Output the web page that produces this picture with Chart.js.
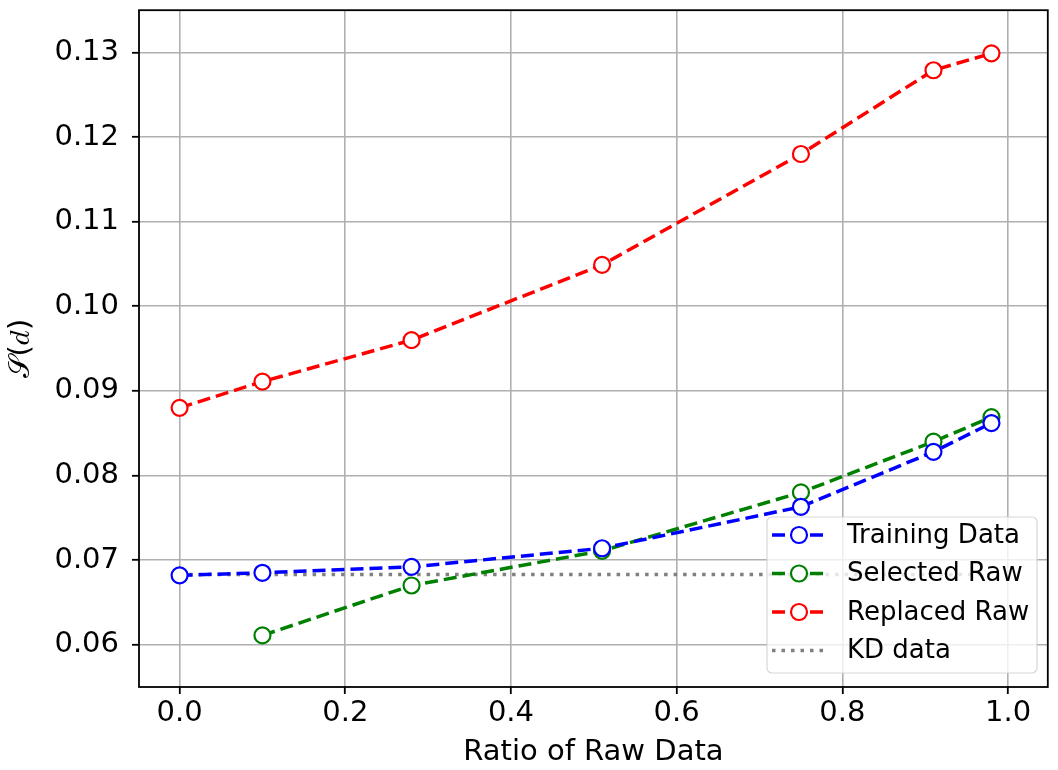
<!DOCTYPE html>
<html>
<head>
<meta charset="utf-8">
<script src="https://cdn.jsdelivr.net/npm/chart.js@4.4.0/dist/chart.umd.min.js"></script>
<style>
  html, body { margin: 0; padding: 0; background: #fff; }
  #wrap { width: 1058px; height: 770px; }
</style>
</head>
<body>
<div id="wrap"><canvas id="ratio-chart" width="1058" height="770"></canvas></div>
<script>
// 値は図から読み取ったもの
const ratios = [0.0, 0.1, 0.28, 0.51, 0.75, 0.91, 0.98];
const trainingData = [0.0682, 0.0685, 0.0692, 0.0714, 0.0763, 0.0828, 0.0862];
const selectedRatios = [0.1, 0.28, 0.51, 0.75, 0.91, 0.98];
const selectedRaw = [0.0611, 0.0670, 0.0711, 0.0780, 0.0840, 0.0869];
const replacedRaw = [0.0880, 0.0911, 0.0960, 0.1049, 0.1180, 0.1279, 0.1299];
const kdRatios = [0.0, 0.98];
const kdData = [0.0683, 0.0683];

const xTicks = [0.0, 0.2, 0.4, 0.6, 0.8, 1.0];
const yTicks = [0.06, 0.07, 0.08, 0.09, 0.10, 0.11, 0.12, 0.13];

const FONT = "'DejaVu Sans', sans-serif";

function toPoints(xs, ys) {
  return xs.map((x, i) => ({ x: x, y: ys[i] }));
}

function lineSet(label, xs, ys, color) {
  return {
    label: label,
    data: toPoints(xs, ys),
    borderColor: color,
    borderWidth: 3.5,
    borderDash: [13, 6],
    pointRadius: 8,
    pointHoverRadius: 8,
    pointBorderWidth: 2.2,
    pointBorderColor: color,
    pointBackgroundColor: '#ffffff',
    tension: 0,
    fill: false
  };
}

// 枠線
const framePlugin = {
  id: 'frame',
  afterDatasetsDraw(chart) {
    const a = chart.chartArea;
    const ctx = chart.ctx;
    ctx.save();
    ctx.strokeStyle = '#000';
    ctx.lineWidth = 1.8;
    ctx.strokeRect(a.left, a.top, a.right - a.left, a.bottom - a.top);
    ctx.restore();
  }
};

// 凡例 (matplotlib風)
const legendPlugin = {
  id: 'mplLegend',
  afterDraw(chart) {
    const ctx = chart.ctx;
    const box = { x: 767, y: 517, w: 270, h: 156 };
    ctx.save();
    ctx.beginPath();
    ctx.roundRect(box.x, box.y, box.w, box.h, 5);
    ctx.fillStyle = 'rgba(255,255,255,0.8)';
    ctx.fill();
    ctx.strokeStyle = 'rgba(204,204,204,0.8)';
    ctx.lineWidth = 1.2;
    ctx.stroke();

    const rowY = [535, 573.5, 612, 650.5];
    chart.data.datasets.forEach((ds, i) => {
      const y = rowY[i];
      ctx.beginPath();
      ctx.setLineDash(ds.borderDash);
      ctx.strokeStyle = ds.borderColor;
      ctx.lineWidth = ds.borderWidth;
      ctx.moveTo(772, y);
      ctx.lineTo(826, y);
      ctx.stroke();
      ctx.setLineDash([]);
      if (ds.pointRadius > 0) {
        ctx.beginPath();
        ctx.arc(799, y, ds.pointRadius, 0, Math.PI * 2);
        ctx.fillStyle = '#fff';
        ctx.fill();
        ctx.lineWidth = ds.pointBorderWidth;
        ctx.strokeStyle = ds.pointBorderColor;
        ctx.stroke();
      }
      ctx.fillStyle = '#000';
      ctx.font = '26px ' + FONT;
      ctx.textBaseline = 'middle';
      ctx.textAlign = 'left';
      ctx.fillText(ds.label, 847, y + 1);
    });
    ctx.restore();
  }
};

const ctx = document.getElementById('ratio-chart').getContext('2d');
const chart = new Chart(ctx, {
  type: 'line',
  data: {
    datasets: [
      lineSet('Training Data', ratios, trainingData, '#0000ff'),
      lineSet('Selected Raw', selectedRatios, selectedRaw, '#008000'),
      lineSet('Replaced Raw', ratios, replacedRaw, '#ff0000'),
      {
        label: 'KD data',
        data: toPoints(kdRatios, kdData),
        borderColor: '#808080',
        borderWidth: 3.5,
        borderDash: [3.5, 6],
        pointRadius: 0,
        fill: false
      }
    ]
  },
  options: {
    responsive: false,
    animation: false,
    devicePixelRatio: 1,
    layout: { padding: { top: 7, right: 8, left: 0, bottom: 0 } },
    plugins: {
      legend: { display: false },
      tooltip: { enabled: false }
    },
    scales: {
      x: {
        type: 'linear',
        min: -0.049,
        max: 1.048,
        afterBuildTicks: s => { s.ticks = xTicks.map(v => ({ value: v })); },
        afterFit: s => { s.height = 83; s.paddingLeft = 0; s.paddingRight = 0; },
        ticks: {
          color: '#000',
          font: { family: FONT, size: 29 },
          padding: 2,
          maxRotation: 0,
          callback: v => v.toFixed(1)
        },
        grid: { color: '#b0b0b0', lineWidth: 1.6, tickColor: '#000', tickLength: 7, tickWidth: 1.8 },
        border: { display: false },
        title: {
          display: true,
          text: 'Ratio of Raw Data',
          color: '#000',
          font: { family: FONT, size: 29 },
          padding: { top: 4, bottom: 0 }
        }
      },
      y: {
        type: 'linear',
        min: 0.055,
        max: 0.135,
        afterBuildTicks: s => { s.ticks = yTicks.map(v => ({ value: v })); },
        afterFit: s => { s.width = 139; s.paddingTop = 0; s.paddingBottom = 0; },
        ticks: {
          color: '#000',
          font: { family: FONT, size: 29 },
          padding: 13,
          callback: v => v.toFixed(2)
        },
        grid: { color: '#b0b0b0', lineWidth: 1.6, tickColor: '#000', tickLength: 7, tickWidth: 1.8 },
        border: { display: false },
        title: {
          display: true,
          text: '𝒮(𝑑)',
          color: '#000',
          font: { family: FONT, size: 29 },
          padding: { top: 4, bottom: 4 }
        }
      }
    }
  },
  plugins: [framePlugin, legendPlugin]
});
</script>
</body>
</html>
